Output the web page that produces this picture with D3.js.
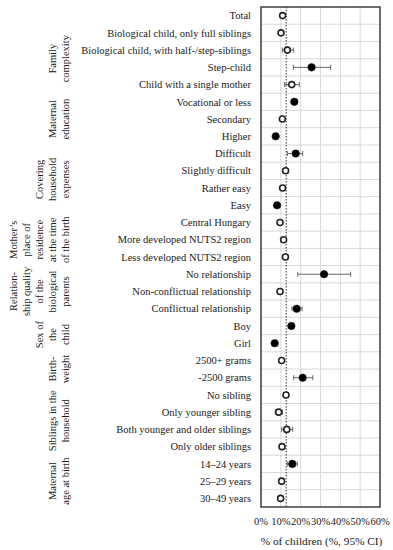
<!DOCTYPE html>
<html lang="en">
<head>
    <meta charset="UTF-8">
    <title>% of children (%, 95% CI)</title>
    <script src="https://d3js.org/d3.v7.min.js"></script>
    <style>
        body {
            margin: 0;
            padding: 0;
            background: #fff;
        }
    </style>
</head>
<body>
    <div id="chart"></div>

    <script>
        // row labels, top to bottom
        const rowLabels = [
            "Total",
            "Biological child, only full siblings",
            "Biological child, with half-/step-siblings",
            "Step-child",
            "Child with a single mother",
            "Vocational or less",
            "Secondary",
            "Higher",
            "Difficult",
            "Slightly difficult",
            "Rather easy",
            "Easy",
            "Central Hungary",
            "More developed NUTS2 region",
            "Less developed NUTS2 region",
            "No relationship",
            "Non-conflictual relationship",
            "Conflictual relationship",
            "Boy",
            "Girl",
            "2500+ grams",
            "-2500 grams",
            "No sibling",
            "Only younger sibling",
            "Both younger and older siblings",
            "Only older siblings",
            "14\u201324 years",
            "25\u201329 years",
            "30\u201349 years"
        ];

        // point estimates and 95% CI (in %)
        const estimates = [10.9, 10.1, 13.3, 25.5, 15.5, 16.8, 10.8, 7.4, 17.5, 12.4, 10.9, 8.1, 9.6, 11.4, 12.3,
            31.8, 9.6, 18.0, 15.3, 6.9, 10.4, 21.0, 12.6, 8.9, 13.0, 10.6, 15.8, 10.4, 9.9];
        const ciLow = [10.3, 9.4, 10.8, 16.3, 11.9, 15.4, 9.9, 6.5, 13.3, 11.0, 9.9, 7.0, 8.5, 10.3, 11.0,
            18.5, 8.9, 15.6, 14.2, 6.1, 9.7, 16.5, 11.3, 7.2, 10.4, 9.5, 13.3, 9.3, 8.9];
        const ciHigh = [11.5, 10.8, 16.3, 35.1, 19.3, 18.3, 11.8, 8.3, 21.0, 13.8, 11.9, 9.2, 10.8, 12.5, 13.6,
            45.2, 10.3, 20.7, 16.4, 7.7, 11.1, 26.1, 13.9, 10.9, 16.0, 11.7, 18.3, 11.5, 10.9];
        // filled marker = significant difference
        const significant = [false, false, false, true, false, true, false, true, true, false, false, true, false, false, false,
            true, false, true, true, true, false, true, false, false, false, false, true, false, false];

        // reference line (total)
        const referenceValue = 12.7;

        // variable groups: label lines, first row, last row
        const groupLines = [
            ["Family", "complexity"],
            ["Maternal", "education"],
            ["Covering", "household", "expenses"],
            ["Mother\u2019s", "place of", "residence", "at the time", "of the birth"],
            ["Relation-", "ship quality", "of the", "biological", "parents"],
            ["Sex of", "the", "child"],
            ["Birth-", "weight"],
            ["Siblings in the", "household"],
            ["Maternal", "age at birth"]
        ];
        const groupStart = [1, 5, 8, 12, 15, 18, 20, 22, 26];
        const groupEnd = [4, 7, 11, 14, 17, 19, 21, 25, 28];

        const xTicks = [0, 10, 20, 30, 40, 50, 60];

        const width = 393, height = 550;
        const plot = { left: 261, right: 380, top: 7, bottom: 507 };
        const font = "'Liberation Serif', 'Times New Roman', 'DejaVu Serif', serif";
        const textColor = "#1a1a1a";

        const svg = d3.select("#chart").append("svg")
            .attr("width", width)
            .attr("height", height);

        const x = d3.scaleLinear().domain([0, 60]).range([plot.left, plot.right]);
        const y = d3.scaleBand().domain(d3.range(rowLabels.length)).range([plot.top, plot.bottom]);

        // grid
        svg.append("g").selectAll("line")
            .data(xTicks)
            .enter().append("line")
            .attr("x1", d => x(d)).attr("x2", d => x(d))
            .attr("y1", plot.top).attr("y2", plot.bottom)
            .attr("stroke", "#d9d9d9").attr("stroke-width", 1);

        svg.append("g").selectAll("line")
            .data(d3.range(1, rowLabels.length))
            .enter().append("line")
            .attr("x1", plot.left).attr("x2", plot.right)
            .attr("y1", d => y(d)).attr("y2", d => y(d))
            .attr("stroke", "#d9d9d9").attr("stroke-width", 1);

        // reference line
        svg.append("line")
            .attr("x1", x(referenceValue)).attr("x2", x(referenceValue))
            .attr("y1", plot.top).attr("y2", plot.bottom)
            .attr("stroke", "#333").attr("stroke-width", 1)
            .attr("stroke-dasharray", "1.5,1.5");

        // error bars
        const bw = y.bandwidth();
        const bars = svg.append("g").selectAll("g")
            .data(rowLabels.map((d, i) => i))
            .enter().append("g")
            .attr("transform", i => `translate(0,${y(i) + bw / 2})`);

        bars.append("line")
            .attr("x1", i => x(ciLow[i])).attr("x2", i => x(ciHigh[i]))
            .attr("stroke", "#666").attr("stroke-width", 1);
        bars.append("line")
            .attr("x1", i => x(ciLow[i])).attr("x2", i => x(ciLow[i]))
            .attr("y1", -2.5).attr("y2", 2.5)
            .attr("stroke", "#666").attr("stroke-width", 1);
        bars.append("line")
            .attr("x1", i => x(ciHigh[i])).attr("x2", i => x(ciHigh[i]))
            .attr("y1", -2.5).attr("y2", 2.5)
            .attr("stroke", "#666").attr("stroke-width", 1);

        // markers
        bars.append("circle")
            .attr("cx", i => x(estimates[i]))
            .attr("r", i => significant[i] ? 3.8 : 3)
            .attr("fill", i => significant[i] ? "#000" : "#fff")
            .attr("stroke", "#222")
            .attr("stroke-width", i => significant[i] ? 0.5 : 1.6);

        // plot frame
        svg.append("rect")
            .attr("x", plot.left).attr("y", plot.top)
            .attr("width", plot.right - plot.left)
            .attr("height", plot.bottom - plot.top)
            .attr("fill", "none")
            .attr("stroke", "#404040").attr("stroke-width", 1.5);

        // row labels
        svg.append("g").selectAll("text")
            .data(rowLabels)
            .enter().append("text")
            .attr("x", 251)
            .attr("y", (d, i) => y(i) + bw / 2)
            .attr("dy", "0.35em")
            .attr("text-anchor", "end")
            .attr("font-family", font)
            .attr("font-size", 10.5)
            .attr("fill", textColor)
            .text(d => d);

        // group labels (rotated)
        const lineGap = 13;
        groupLines.forEach((lines, g) => {
            const cy = (y(groupStart[g]) + y(groupEnd[g]) + bw) / 2;
            const lastX = 68.5;
            const t = svg.append("text")
                .attr("transform", `translate(0,${cy}) rotate(-90)`)
                .attr("text-anchor", "middle")
                .attr("font-family", font)
                .attr("font-size", 10.5)
                .attr("fill", textColor);
            lines.forEach((line, k) => {
                t.append("tspan")
                    .attr("x", 0)
                    .attr("y", lastX - (lines.length - 1 - k) * lineGap)
                    .text(line);
            });
        });

        // x tick labels
        svg.append("g").selectAll("text")
            .data(xTicks)
            .enter().append("text")
            .attr("x", d => x(d))
            .attr("y", 525)
            .attr("text-anchor", "middle")
            .attr("font-family", font)
            .attr("font-size", 10.5)
            .attr("fill", textColor)
            .text(d => d + "%");

        // axis title
        svg.append("text")
            .attr("x", (plot.left + plot.right) / 2 + 1)
            .attr("y", 545)
            .attr("text-anchor", "middle")
            .attr("font-family", font)
            .attr("font-size", 11.3)
            .attr("fill", textColor)
            .text("% of children (%, 95% CI)");
    </script>
</body>
</html>
